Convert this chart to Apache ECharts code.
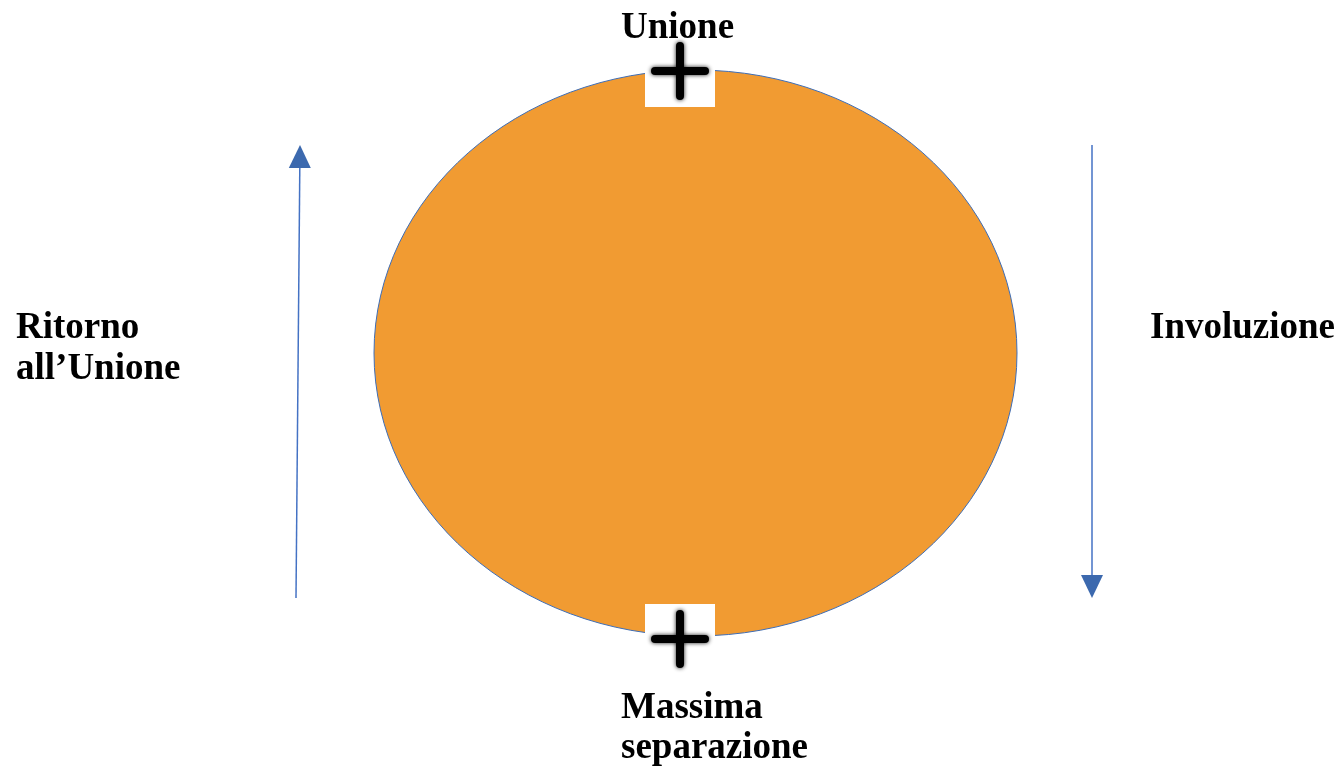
<!DOCTYPE html>
<html>
<head>
<meta charset="utf-8">
<script src="https://cdn.jsdelivr.net/npm/echarts@6/dist/echarts.min.js"></script>
<style>html,body{margin:0;padding:0;background:#fff}#c{width:1341px;height:766px}</style>
</head>
<body>
<div id="c"></div>
<script>
// Diagram coordinates (x to the right, y downward) in diagram units
const ellipseCenter = [695.5, 353];
const ellipseRadii = [321.5, 283];
const whiteBoxes = [[645, 66, 715, 107], [645, 604, 715, 637]];
const plusCenters = [[680, 71], [680, 639]];
const arrowLines = [[296, 598, 300, 145], [1092, 145, 1092, 598]];
const labelTexts = ['Unione', 'Ritorno', 'all\u2019Unione', 'Involuzione', 'Massima', 'separazione'];
const labelX = [621, 16, 16, 1150, 621, 621];
const labelY = [28, 328, 369, 328, 708, 748];

const chart = echarts.init(document.getElementById('c'));
chart.setOption({
  animation: false,
  grid: {left: 0, right: 0, top: 0, bottom: 0},
  xAxis: {type: 'value', min: 0, max: 1341, show: false},
  yAxis: {type: 'value', min: 0, max: 766, inverse: true, show: false},
  series: [
    {
      type: 'custom', coordinateSystem: 'cartesian2d', z: 1,
      data: [[ellipseCenter[0], ellipseCenter[1], ellipseRadii[0], ellipseRadii[1]]],
      renderItem: function (params, api) {
        const c = api.coord([api.value(0), api.value(1)]);
        const s = api.size([api.value(2), api.value(3)]);
        return {type: 'ellipse', shape: {cx: c[0], cy: c[1], rx: s[0], ry: s[1]},
          style: {fill: '#F19B32', stroke: '#3E6DB5', lineWidth: 1}};
      }
    },
    {
      type: 'custom', coordinateSystem: 'cartesian2d', z: 2,
      data: whiteBoxes,
      renderItem: function (params, api) {
        const a = api.coord([api.value(0), api.value(1)]);
        const b = api.coord([api.value(2), api.value(3)]);
        return {type: 'rect', shape: {x: a[0], y: a[1], width: b[0] - a[0], height: b[1] - a[1]},
          style: {fill: '#ffffff'}};
      }
    },
    {
      type: 'custom', coordinateSystem: 'cartesian2d', z: 3,
      data: plusCenters,
      renderItem: function (params, api) {
        const c = api.coord([api.value(0), api.value(1)]);
        const st = {stroke: '#000', lineWidth: 8, lineCap: 'round', shadowBlur: 4, shadowColor: 'rgba(0,0,0,0.9)'};
        return {type: 'group', children: [
          {type: 'line', shape: {x1: c[0] - 25, y1: c[1], x2: c[0] + 25, y2: c[1]}, style: st},
          {type: 'line', shape: {x1: c[0], y1: c[1] - 25, x2: c[0], y2: c[1] + 25}, style: st}
        ]};
      }
    },
    {
      type: 'custom', coordinateSystem: 'cartesian2d', z: 3,
      data: arrowLines,
      renderItem: function (params, api) {
        const p = api.coord([api.value(0), api.value(1)]);
        const q = api.coord([api.value(2), api.value(3)]);
        const dx = q[0] - p[0], dy = q[1] - p[1];
        const L = Math.sqrt(dx * dx + dy * dy);
        const ux = dx / L, uy = dy / L;
        const hl = 23, hw = 11;
        const bx = q[0] - ux * hl, by = q[1] - uy * hl;
        return {type: 'group', children: [
          {type: 'line', shape: {x1: p[0], y1: p[1], x2: bx, y2: by},
            style: {stroke: '#4472C4', lineWidth: 1.5}},
          {type: 'polygon', shape: {points: [[q[0], q[1]], [bx - uy * hw, by + ux * hw], [bx + uy * hw, by - ux * hw]]},
            style: {fill: '#3C69AE'}}
        ]};
      }
    },
    {
      type: 'custom', coordinateSystem: 'cartesian2d', z: 4,
      data: labelTexts.map(function (t, i) { return [labelX[i], labelY[i], i]; }),
      renderItem: function (params, api) {
        const c = api.coord([api.value(0), api.value(1)]);
        return {type: 'text', x: c[0], y: c[1],
          style: {text: labelTexts[api.value(2)], fill: '#000',
            font: 'bold 37px "Liberation Serif", "Times New Roman", serif',
            textAlign: 'left', textVerticalAlign: 'middle'}};
      }
    }
  ]
});
</script>
</body>
</html>
